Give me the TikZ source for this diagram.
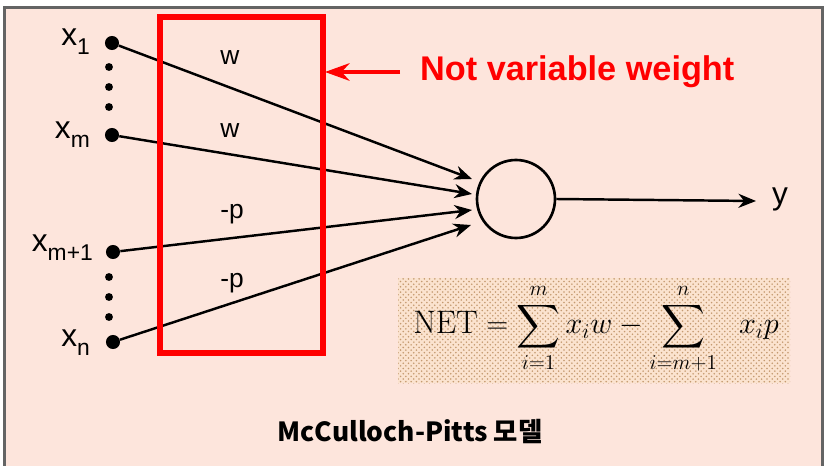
\documentclass[tikz,border=0pt]{standalone}
\usepackage{fontspec}
\usepackage{amsmath}
\newfontfamily\arial{Liberation Sans}
\newfontfamily\krfont{Noto Sans CJK KR}
\usetikzlibrary{arrows.meta,patterns}
\definecolor{bgpink}{HTML}{FDE5DC}
\definecolor{boxpink}{HTML}{FBE3CF}
\definecolor{framegray}{HTML}{646464}
\definecolor{dotbrown}{HTML}{C49A70}
\newcommand\sub[1]{\raisebox{-5pt}{\fontsize{13}{14}\selectfont #1}}
\tikzset{
  inp/.style={circle,fill=black,inner sep=0pt,minimum size=8pt},
  smalldot/.style={circle,fill=black,inner sep=0pt,minimum size=4.5pt},
  lab/.style={font=\arial\fontsize{18}{20}\selectfont},
  wlab/.style={font=\arial\fontsize{15}{17}\selectfont},
  link/.style={line width=1.4pt,-{Stealth[length=10pt,width=8pt]}},
}
\begin{document}
\begin{tikzpicture}[x=0.02cm,y=-0.02cm]
  \useasboundingbox (0,0) rectangle (825,466);
  % panel
  \fill[bgpink] (4.5,7.5) rectangle (822,466);
  \draw[framegray,line width=1.7pt] (4.5,470) -- (4.5,7.5) -- (822,7.5) -- (822,470);
  % inputs
  \node[inp] (x1) at (112,43) {};
  \node[inp] (xm) at (112,135) {};
  \node[inp] (xm1) at (113,252) {};
  \node[inp] (xn) at (113,342) {};
  \foreach \y in {67,87,107,277,297,317}
    \node[smalldot] at (109,\y) {};
  \node[lab,anchor=east] at (96,42) {x\sub{1}};
  \node[lab,anchor=east] at (96,135) {x\sub{m}};
  \node[lab,anchor=east] at (99,248) {x\sub{m+1}};
  \node[lab,anchor=east] at (96,343) {x\sub{n}};
  % neuron
  \node[circle,draw,line width=1.5pt,minimum size=78*0.02cm] (net) at (516,199) {};
  \coordinate (t1) at (472,179);
  \coordinate (t2) at (472,194);
  \coordinate (t3) at (472,210);
  \coordinate (t4) at (471,225);
  \draw[link] (x1) -- (t1);
  \draw[link] (xm) -- (t2);
  \draw[link] (xm1) -- (t3);
  \draw[link] (xn) -- (t4);
  \node[wlab] at (230,58) {w};
  \node[wlab] at (230,131) {w};
  \node[wlab] at (232,214) {-p};
  \node[wlab] at (232,283) {-p};
  % output
  \coordinate (yend) at (756,201);
  \draw[link] (net.east) -- (yend);
  \node[lab,anchor=west] (y) at (766,199) {y};
  % red box
  \draw[red,line width=3pt] (160,17) rectangle (323,353);
  \coordinate (note) at (400,72);
  \draw[red,line width=2pt,-{Stealth[length=14pt,width=10pt]}] (note) -- (325,72);
  \node[red,anchor=west,font=\arial\fontsize{19.5}{22}\selectfont\bfseries] at (414,72) {Not variable weight};
  % NET formula
  \fill[boxpink] (398,278) rectangle (790,383);
  \fill[pattern=crosshatch dots,pattern color=dotbrown] (398,278) rectangle (790,383);
  \node (f) at (596,329) {\fontsize{18.5}{22}\selectfont
    $\displaystyle \mathrm{NET} = \sum_{i=1}^{m} x_i w - \sum_{i=m+1}^{n}\;\; x_i p$};
  % caption
  \node[font=\krfont\bfseries\fontsize{15}{17}\selectfont] at (410,432) {McCulloch-Pitts 모델};
\end{tikzpicture}
\end{document}
